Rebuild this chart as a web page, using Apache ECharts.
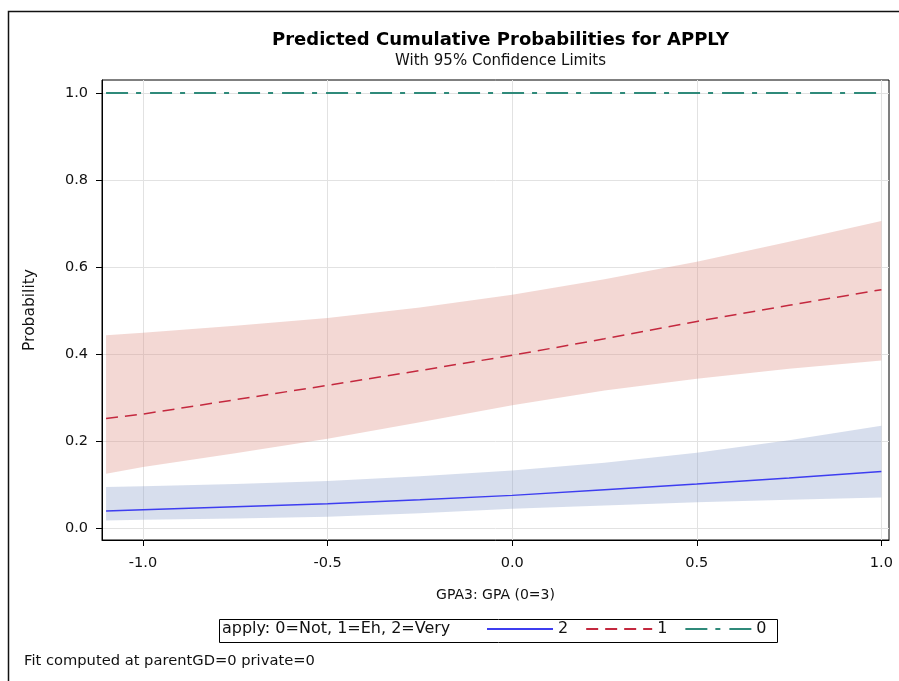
<!DOCTYPE html>
<html>
<head>
<meta charset="utf-8">
<script src="https://cdn.jsdelivr.net/npm/echarts@6/dist/echarts.min.js"></script>
<style>
  html, body { margin: 0; padding: 0; background: #fff; }
  #chart { width: 899px; height: 681px; }
</style>
</head>
<body>
<div id="chart"></div>
<script>
// GPA3 values (centered at 3) and predicted cumulative probabilities
var gpa = [-1.1, -1.0, -0.75, -0.5, -0.25, 0.0, 0.25, 0.5, 0.75, 1.0];
var p2 = [0.039, 0.042, 0.049, 0.056, 0.065, 0.075, 0.088, 0.101, 0.115, 0.130];
var p2Lower = [0.017, 0.019, 0.022, 0.026, 0.034, 0.044, 0.052, 0.059, 0.065, 0.070];
var p2Upper = [0.094, 0.096, 0.101, 0.108, 0.119, 0.132, 0.150, 0.173, 0.202, 0.235];
var p1 = [0.252, 0.262, 0.295, 0.328, 0.362, 0.397, 0.435, 0.475, 0.512, 0.548];
var p1Lower = [0.125, 0.140, 0.172, 0.205, 0.243, 0.282, 0.316, 0.343, 0.366, 0.385];
var p1Upper = [0.443, 0.449, 0.465, 0.483, 0.507, 0.536, 0.572, 0.612, 0.658, 0.706];
var p0 = [1, 1, 1, 1, 1, 1, 1, 1, 1, 1];
var xTicks = [-1.0, -0.5, 0.0, 0.5, 1.0];
var yTicks = [0.0, 0.2, 0.4, 0.6, 0.8, 1.0];

var font = 'DejaVu Sans';

function pairs(ys) {
  return gpa.map(function (x, i) { return [x, ys[i]]; });
}

// confidence band as one polygon, through the axis scales
function band(name, lo, hi, fill) {
  return {
    name: name,
    type: 'custom',
    z: 1,
    clip: true,
    silent: true,
    data: gpa.map(function (x, i) { return [x, lo[i], hi[i]]; }),
    encode: { x: 0, y: [1, 2] },
    renderItem: function (params, api) {
      if (params.dataIndex !== 0) return;
      var pts = [];
      for (var i = 0; i < gpa.length; i++) pts.push(api.coord([gpa[i], hi[i]]));
      for (var j = gpa.length - 1; j >= 0; j--) pts.push(api.coord([gpa[j], lo[j]]));
      return { type: 'polygon', shape: { points: pts }, style: { fill: fill, stroke: null } };
    }
  };
}

var chart = echarts.init(document.getElementById('chart'));
var option = {
  backgroundColor: '#fff',
  animation: false,
  title: {
    text: 'Predicted Cumulative Probabilities for APPLY',
    subtext: 'With 95% Confidence Limits',
    left: 495.5,
    textAlign: 'center',
    top: 26,
    itemGap: 5,
    textStyle: { fontFamily: font, fontSize: 18, fontWeight: 'bold', color: '#000' },
    subtextStyle: { fontFamily: font, fontSize: 15, color: '#111' }
  },
  grid: { left: 102, right: 10, top: 80, bottom: 141, show: true, borderColor: '#000', borderWidth: 1, backgroundColor: 'transparent' },
  xAxis: {
    type: 'value',
    min: -1.111, max: 1.0206,
    name: 'GPA3: GPA (0=3)',
    nameLocation: 'middle',
    nameGap: 48,
    nameTextStyle: { fontFamily: font, fontSize: 14, color: '#111' },
    axisLine: { show: true, onZero: false, lineStyle: { color: '#000', width: 1 } },
    axisTick: { show: true, length: 6, customValues: xTicks, lineStyle: { color: '#000' } },
    axisLabel: { customValues: xTicks, margin: 16, fontFamily: font, fontSize: 14.5, color: '#111',
      formatter: function (v) { return v.toFixed(1); } },
    splitLine: { show: true, lineStyle: { color: '#e2e2e2', width: 1 } }
  },
  yAxis: {
    type: 'value',
    min: -0.0276, max: 1.030,
    name: 'Probability',
    nameLocation: 'middle',
    nameGap: 64,
    nameTextStyle: { fontFamily: font, fontSize: 15.5, color: '#111' },
    axisLine: { show: true, onZero: false, lineStyle: { color: '#000', width: 1 } },
    axisTick: { show: true, length: 6, customValues: yTicks, lineStyle: { color: '#000' } },
    axisLabel: { customValues: yTicks, margin: 14, fontFamily: font, fontSize: 14.5, color: '#111',
      formatter: function (v) { return v.toFixed(1); } },
    splitLine: { show: true, lineStyle: { color: '#e2e2e2', width: 1 } }
  },
  legend: {
    data: ['2', '1', '0'],
    left: 486,
    top: 621,
    padding: 0,
    itemWidth: 66,
    itemHeight: 12,
    itemGap: 17,
    selectedMode: false,
    itemStyle: { opacity: 0 },
    textStyle: { fontFamily: font, fontSize: 16, color: '#111' }
  },
  series: [
    band('band2', p2Lower, p2Upper, 'rgba(141,161,204,0.35)'),
    band('band1', p1Lower, p1Upper, 'rgba(221,144,132,0.35)'),
    {
      name: '2', type: 'line', data: pairs(p2), symbol: 'none', z: 3,
      lineStyle: { color: '#3d3df0', width: 1.5 }, itemStyle: { color: '#3d3df0' }
    },
    {
      name: '1', type: 'line', data: pairs(p1), symbol: 'none', z: 3,
      lineStyle: { color: '#c4283e', width: 1.5, type: [12, 7] }, itemStyle: { color: '#c4283e' }
    },
    {
      name: '0', type: 'line', data: pairs(p0), symbol: 'none', z: 3,
      lineStyle: { color: '#2f8a7a', width: 2, type: [22, 8, 5, 9] }, itemStyle: { color: '#2f8a7a' }
    }
  ],
  graphic: [
    { type: 'rect', left: 6, top: 9, shape: { width: 1000, height: 1000 }, style: { fill: 'none', stroke: '#111', lineWidth: 1.5 }, silent: true },
    { type: 'rect', left: 217, top: 617, shape: { width: 558, height: 23 }, style: { fill: 'none', stroke: '#000', lineWidth: 1 }, silent: true },
    { type: 'text', left: 222, top: 621, style: { text: 'apply: 0=Not, 1=Eh, 2=Very', fontFamily: font, fontSize: 16, fill: '#111' } },
    { type: 'text', left: 24, top: 654, style: { text: 'Fit computed at parentGD=0 private=0', fontFamily: font, fontSize: 14.7, fill: '#111' } }
  ]
};
chart.setOption(option);
</script>
</body>
</html>
